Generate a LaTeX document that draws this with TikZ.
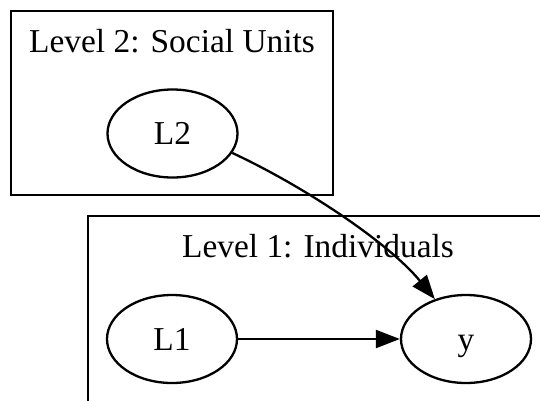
\documentclass[tikz,border=0pt]{standalone}
\usepackage{fontspec}
\setmainfont{Liberation Serif}
\usetikzlibrary{arrows.meta,shapes.geometric}
\tikzset{
  var/.style={draw, ellipse, line width=2.3pt, minimum width=130pt, minimum height=88pt, inner sep=0pt,
    font=\fontsize{33.4}{40}\selectfont, text height=22pt, text depth=0pt},
  cluster/.style={draw, line width=2.3pt},
  clabel/.style={anchor=base, inner sep=0pt, font=\fontsize{33.4}{40}\selectfont},
  edge/.style={line width=2.3pt, -{Triangle[length=24pt,width=18pt]}}
}
\begin{document}
\begin{tikzpicture}[x=1pt,y=-1pt]
\clip (0,0) rectangle (540,400);
\fill[white] (0,0) rectangle (540,400);
% clusters
\draw[cluster] (11,11) rectangle (333,195);
\node[clabel] (lab2) at (172,52) {Level 2: Social Units};
\draw[cluster] (88,216) rectangle (600,460);
\node[clabel] (lab1) at (318,257) {Level 1: Individuals};
% nodes
\node[var] (L2) at (172.5,133.5) {L2};
\node[var] (L1) at (172,339) {L1};
\node[var] (y) at (466,339) {y};
% edges
\draw[edge] (L1) -- (y);
\draw[edge] (L2.-18) .. controls +(75,35) and +(-45,-55) .. (y.128);
\end{tikzpicture}
\end{document}
